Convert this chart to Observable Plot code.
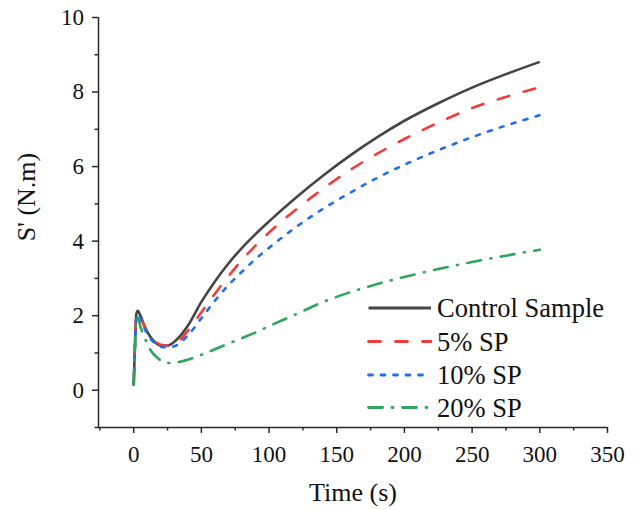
<!DOCTYPE html>
<html>
<head>
<meta charset="utf-8">
<script src="https://cdn.jsdelivr.net/npm/d3@7"></script>
<script src="https://cdn.jsdelivr.net/npm/@observablehq/plot@0.6"></script>
<style>
  html, body { margin: 0; padding: 0; background: #fff; }
</style>
</head>
<body>
<div id="chart"></div>
<script>
const time = [0, 1, 2, 3, 5, 8, 12, 16, 20, 25, 30, 40, 50, 60, 70, 80, 90, 100, 120, 140, 160, 180, 200, 225, 250, 275, 300];
const control = [0.15, 1.3, 2.05, 2.13, 2.0, 1.72, 1.45, 1.28, 1.2, 1.2, 1.3, 1.73, 2.37, 2.92, 3.4, 3.82, 4.19, 4.53, 5.17, 5.76, 6.3, 6.79, 7.23, 7.7, 8.12, 8.48, 8.81];
const sp5 = [0.15, 1.3, 2.0, 2.08, 1.95, 1.7, 1.45, 1.3, 1.22, 1.2, 1.24, 1.59, 2.09, 2.59, 3.06, 3.49, 3.88, 4.23, 4.85, 5.41, 5.91, 6.35, 6.74, 7.18, 7.57, 7.87, 8.13];
const sp10 = [0.15, 1.2, 1.95, 2.05, 1.9, 1.65, 1.4, 1.25, 1.17, 1.15, 1.18, 1.47, 1.93, 2.4, 2.82, 3.18, 3.52, 3.82, 4.38, 4.87, 5.3, 5.7, 6.05, 6.44, 6.79, 7.1, 7.38];
const sp20 = [0.15, 1.2, 1.9, 1.95, 1.7, 1.42, 1.1, 0.92, 0.8, 0.73, 0.74, 0.82, 0.95, 1.1, 1.25, 1.4, 1.55, 1.72, 2.04, 2.37, 2.63, 2.85, 3.04, 3.25, 3.44, 3.61, 3.77];

const seriesNames = ["Control Sample", "5% SP", "10% SP", "20% SP"];
const seriesColors = ["#454545", "#f23c3c", "#1f6fe8", "#2ea55c"];
const seriesDash = [null, "12,15", "4,8.5", "14,9.5,1,9.5"];
const xDomain = [-26, 350];
const yDomain = [-1, 10];
const xMajor = [0, 50, 100, 150, 200, 250, 300, 350];
const xMinor = [-25, 25, 75, 125, 175, 225, 275, 325];
const yMajor = [0, 2, 4, 6, 8, 10];
const yMinor = [-1, 1, 3, 5, 7, 9];

const allValues = [control, sp5, sp10, sp20];
const font = "'Liberation Serif', 'Times New Roman', serif";
const axisColor = "#2b2b2b";

const lineMarks = allValues.map((vals, i) => {
  const rows = time.map((t, j) => ({t, v: vals[j]}));
  return Plot.line(rows, {
    x: "t", y: "v", curve: "monotone-x",
    stroke: seriesColors[i], strokeWidth: 2.6,
    strokeDasharray: seriesDash[i] || undefined,
    strokeLinecap: i === 0 ? "butt" : "round"
  });
});

const chart = Plot.plot({
  width: 637, height: 509,
  marginLeft: 98, marginRight: 30, marginTop: 17, marginBottom: 82,
  style: {background: "#fff", overflow: "visible"},
  x: {domain: xDomain},
  y: {domain: yDomain},
  marks: [
    Plot.axisX(xMajor, {tickSize: 6, tickPadding: 12, fontSize: 23, stroke: axisColor, strokeWidth: 1.5, fill: "#111", label: null}),
    Plot.axisX(xMinor, {tickSize: 3.5, stroke: axisColor, strokeWidth: 1.5, text: null, label: null}),
    Plot.axisY(yMajor, {tickSize: 6, tickPadding: 8.5, fontSize: 23, stroke: axisColor, strokeWidth: 1.5, fill: "#111", label: null}),
    Plot.axisY(yMinor, {tickSize: 3.5, stroke: axisColor, strokeWidth: 1.5, text: null, label: null}),
    Plot.ruleX([xDomain[0]], {stroke: axisColor, strokeWidth: 1.5}),
    Plot.ruleY([yDomain[0]], {stroke: axisColor, strokeWidth: 1.5}),
    ...lineMarks
  ]
});
document.getElementById("chart").appendChild(chart);

const svg = d3.select(chart);
svg.append("text").text("Time (s)")
  .attr("x", 353).attr("y", 501)
  .attr("text-anchor", "middle")
  .attr("font-size", 26).attr("fill", "#111");
svg.append("text").text("S' (N.m)")
  .attr("transform", "translate(35,197) rotate(-90)")
  .attr("text-anchor", "middle")
  .attr("font-size", 26).attr("fill", "#111");

const legendRows = [308, 341.5, 375, 407.5];
const lg = svg.append("g");
seriesNames.forEach((name, i) => {
  lg.append("line").attr("x1", 368.5).attr("x2", 431).attr("y1", legendRows[i]).attr("y2", legendRows[i])
    .attr("stroke", seriesColors[i]).attr("stroke-width", 2.8)
    .attr("stroke-linecap", i === 0 ? "butt" : "round")
    .attr("stroke-dasharray", seriesDash[i]);
  lg.append("text").text(name)
    .attr("x", 437).attr("y", legendRows[i]).attr("dy", "0.34em")
    .attr("text-anchor", "start")
    .attr("font-size", 26.5).attr("fill", "#111");
});

svg.selectAll("text").attr("font-family", font).style("font-family", font);
</script>
</body>
</html>
